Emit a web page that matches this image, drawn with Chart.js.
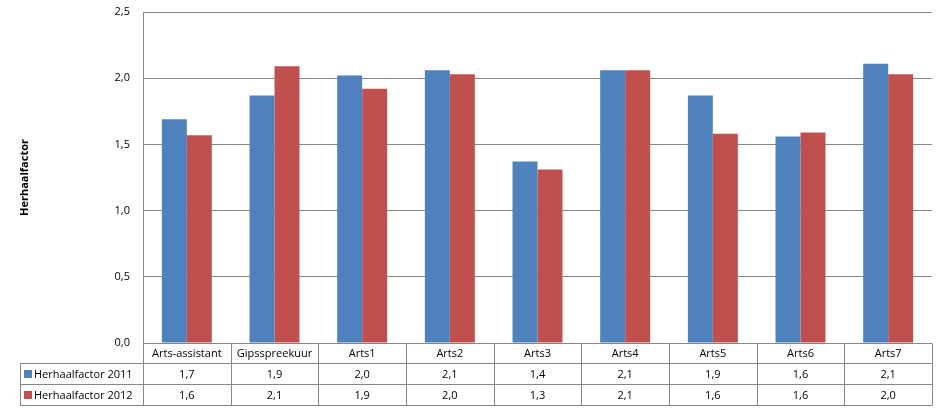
<!DOCTYPE html>
<html>
<head>
<meta charset="utf-8">
<script src="https://cdn.jsdelivr.net/npm/chart.js@4/dist/chart.umd.min.js"></script>
<style>
html,body{margin:0;padding:0;background:#fff;}
#wrap{width:944px;height:411px;position:relative;}
</style>
</head>
<body>
<div id="wrap"><canvas id="c" width="944" height="411"></canvas></div>
<script>
const categories = ["Arts-assistant","Gipsspreekuur","Arts1","Arts2","Arts3","Arts4","Arts5","Arts6","Arts7"];
const series2011 = [1.69,1.87,2.02,2.06,1.37,2.06,1.87,1.56,2.11];
const series2012 = [1.57,2.09,1.92,2.03,1.31,2.06,1.58,1.59,2.03];
const seriesNames = ["Herhaalfactor 2011","Herhaalfactor 2012"];
const yTicks = [0,0.5,1.0,1.5,2.0,2.5];
const yTitle = "Herhaalfactor";

const BLUE = "#4F81BD", RED = "#C0504D", LINE = "#868686";
const FONT = "'Open Sans', 'Liberation Sans', sans-serif";
const fmt = v => (Math.round(v*10)/10).toFixed(1).replace('.', ',');

const tablePlugin = {
  id: 'dataTable',
  afterDraw(chart) {
    const ctx = chart.ctx, x = chart.scales.x, a = chart.chartArea;
    const n = categories.length;
    const cw = (a.right - a.left) / n;
    const rows = [a.bottom, a.bottom + 20, a.bottom + 41, a.bottom + 62];
    const leftX = 20;
    const px = v => Math.round(v) + 0.5;
    ctx.save();
    ctx.strokeStyle = LINE; ctx.lineWidth = 1;
    ctx.beginPath();
    ctx.moveTo(a.left, px(rows[0])); ctx.lineTo(a.right, px(rows[0]));
    for (let r = 1; r < 4; r++) { ctx.moveTo(leftX, px(rows[r])); ctx.lineTo(a.right, px(rows[r])); }
    ctx.moveTo(px(leftX), px(rows[1])); ctx.lineTo(px(leftX), px(rows[3]));
    for (let i = 0; i <= n; i++) {
      const xx = px(a.left + i * cw);
      ctx.moveTo(xx, px(rows[0])); ctx.lineTo(xx, px(rows[3]));
    }
    ctx.stroke();
    ctx.fillStyle = '#000';
    ctx.font = "11px " + FONT;
    ctx.textAlign = 'center'; ctx.textBaseline = 'middle';
    const data = [series2011, series2012];
    for (let i = 0; i < n; i++) {
      const cx = x.getPixelForValue(i);
      ctx.fillText(categories[i], cx, (rows[0] + rows[1]) / 2 + 1);
      for (let s = 0; s < 2; s++) {
        ctx.fillText(fmt(data[s][i]), cx, (rows[s+1] + rows[s+2]) / 2 + 1);
      }
    }
    ctx.textAlign = 'left';
    const colors = [BLUE, RED];
    for (let s = 0; s < 2; s++) {
      const cy = (rows[s+1] + rows[s+2]) / 2;
      ctx.fillStyle = colors[s];
      ctx.fillRect(24, Math.round(cy) - 4, 8, 8);
      ctx.fillStyle = '#000';
      ctx.fillText(seriesNames[s], 34, cy + 1);
    }
    ctx.restore();
  }
};

new Chart(document.getElementById('c'), {
  type: 'bar',
  data: {
    labels: categories,
    datasets: [
      { label: seriesNames[0], data: series2011, backgroundColor: BLUE, barPercentage: 1.0, categoryPercentage: 0.57 },
      { label: seriesNames[1], data: series2012, backgroundColor: RED, barPercentage: 1.0, categoryPercentage: 0.57 }
    ]
  },
  options: {
    responsive: false,
    animation: false,
    layout: { padding: { top: 12, right: 12, bottom: 68, left: 0 } },
    plugins: { legend: { display: false }, tooltip: { enabled: false } },
    scales: {
      x: { display: false },
      y: {
        min: 0, max: 2.5,
        afterBuildTicks: s => { s.ticks = yTicks.map(v => ({ value: v })); },
        afterFit: s => { s.width = 143; s.paddingTop = 0; s.paddingBottom = 0; },
        ticks: { padding: 13, color: '#000', font: { family: FONT, size: 11 }, callback: v => v.toFixed(1).replace('.', ',') },
        grid: { color: LINE, drawTicks: false },
        border: { color: LINE },
        title: { display: true, text: yTitle, color: '#000', font: { family: FONT, size: 11, weight: 'bold' }, padding: { top: 18, bottom: 0 } }
      }
    }
  },
  plugins: [tablePlugin]
});
</script>
</body>
</html>
